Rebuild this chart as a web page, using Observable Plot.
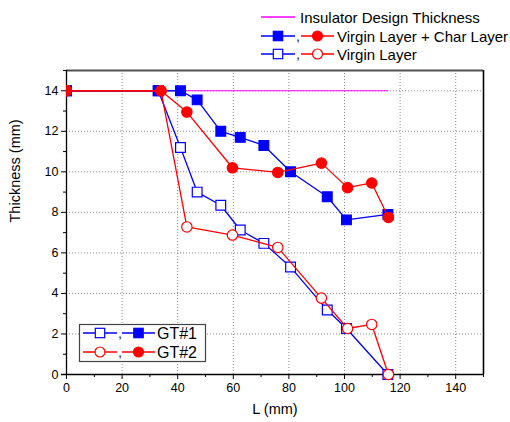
<!DOCTYPE html>
<html>
<head>
<meta charset="utf-8">
<script src="https://cdn.jsdelivr.net/npm/d3@7"></script>
<script src="https://cdn.jsdelivr.net/npm/@observablehq/plot@0.6"></script>
<style>
  body { margin: 0; background: #fff; }
  #chart { position: relative; width: 510px; height: 422px; font-family: "Liberation Sans", Arial, sans-serif; }
  #chart svg.legend { position: absolute; left: 0; top: 0; pointer-events: none; }
</style>
</head>
<body>
<div id="chart"></div>
<script>
// Measurement positions along the liner (mm)
const gt1L = [0, 33, 41, 47, 55.5, 62.5, 71, 80.6, 93.8, 100.7, 115.6];
const gt2L = [0, 34, 43.3, 59.7, 76, 91.7, 101.1, 109.8, 115.8];

// Remaining thickness (mm)
const gt1Total  = [14, 14, 14, 13.55, 12.0, 11.7, 11.3, 10.0, 8.77, 7.63, 7.9];
const gt1Virgin = [14, 14, 11.2, 9.0, 8.35, 7.13, 6.47, 5.3, 3.18, 2.27, 0];
const gt2Total  = [14, 14, 12.95, 10.2, 9.97, 10.43, 9.22, 9.45, 7.75];
const gt2Virgin = [14, 14, 7.28, 6.88, 6.27, 3.77, 2.27, 2.47, 0];

// Design thickness reference
const designL = [0, 115.5];
const designT = [14, 14];

// Axis ticks
const xMajor = [0, 20, 40, 60, 80, 100, 120, 140];
const xMinor = [10, 30, 50, 70, 90, 110, 130, 150];
const yMajor = [0, 2, 4, 6, 8, 10, 12, 14];
const yMinor = [1, 3, 5, 7, 9, 11, 13, 15];

const xTitle = "L (mm)";
const yTitle = "Thickness (mm)";
const legendTop = ["Insulator Design Thickness", "Virgin Layer + Char Layer", "Virgin Layer"];
const legendSeries = ["GT#1", "GT#2"];

const BLUE = "#0000ff", RED = "#ff0000", MAGENTA = "#ff00ff";
const FONT = "'Liberation Sans', Arial, sans-serif";

const rows = (xs, ys) => xs.map((x, i) => ({x, y: ys[i]}));
const design = rows(designL, designT);
const g1t = rows(gt1L, gt1Total), g1v = rows(gt1L, gt1Virgin);
const g2t = rows(gt2L, gt2Total), g2v = rows(gt2L, gt2Virgin);

// markers at the left edge are clipped by the frame, the others are drawn whole
function series(data, color, symbol, filled) {
  const opts = {
    x: "x", y: "y", symbol, r: symbol === "square" ? 5.5 : 5.2,
    fill: filled ? color : "#fff", stroke: color, strokeWidth: 1.2
  };
  return [
    Plot.line(data, {x: "x", y: "y", stroke: color, strokeWidth: 1.3}),
    Plot.dot(data, {...opts, filter: d => d.x === 0, clip: true}),
    Plot.dot(data, {...opts, filter: d => d.x > 0})
  ];
}

const plot = Plot.plot({
  width: 510,
  height: 422,
  marginLeft: 66,
  marginRight: 27,
  marginTop: 70,
  marginBottom: 48,
  style: {fontFamily: FONT, fontSize: "12px", color: "#000", background: "#fff"},
  x: {domain: [0, 150]},
  y: {domain: [0, 15]},
  marks: [
    Plot.gridX(xMajor.filter(v => v > 0), {stroke: "#8a8a8a", strokeOpacity: 1, strokeDasharray: "1,2"}),
    Plot.gridY(yMajor.filter(v => v > 0), {stroke: "#8a8a8a", strokeOpacity: 1, strokeDasharray: "1,2"}),
    Plot.ruleY([15], {stroke: "#505050", strokeWidth: 2}),
    Plot.ruleX([150], {stroke: "#000", strokeWidth: 1.6}),
    Plot.axisX({ticks: xMinor, tickSize: 3, tickFormat: () => "", label: null}),
    Plot.axisX({ticks: xMajor, tickSize: 5, tickPadding: 4, label: null, fontSize: 12.5}),
    Plot.axisY({ticks: yMinor, tickSize: 3, tickFormat: () => "", label: null}),
    Plot.axisY({ticks: yMajor, tickSize: 5, tickPadding: 3, label: null, fontSize: 12.5}),
    Plot.text([xTitle], {frameAnchor: "bottom", dy: 39, fontSize: 14.5, text: d => d}),
    Plot.text([yTitle], {frameAnchor: "left", dx: -51, rotate: -90, fontSize: 14.5, text: d => d}),
    Plot.ruleX([0], {stroke: "#000", strokeWidth: 1.3}),
    Plot.ruleY([0], {stroke: "#000", strokeWidth: 1.3, x1: -1.8, x2: 150}),
    Plot.line(design, {x: "x", y: "y", stroke: MAGENTA, strokeWidth: 1.2}),
    ...series(g1v, BLUE, "square", false),
    ...series(g1t, BLUE, "square", true),
    ...series(g2v, RED, "circle", false),
    ...series(g2t, RED, "circle", true)
  ]
});

const root = document.getElementById("chart");
root.appendChild(plot);

// Legends
const svg = d3.select(root).append("svg").attr("class", "legend")
  .attr("width", 510).attr("height", 422)
  .style("font-family", FONT);

function marker(g, cx, cy, color, symbol, filled) {
  if (symbol === "square") {
    g.append("rect").attr("x", cx - 4.7).attr("y", cy - 4.7).attr("width", 9.4).attr("height", 9.4)
      .attr("fill", filled ? color : "#fff").attr("stroke", color).attr("stroke-width", 1.2);
  } else {
    g.append("circle").attr("cx", cx).attr("cy", cy).attr("r", 5)
      .attr("fill", filled ? color : "#fff").attr("stroke", color).attr("stroke-width", 1.2);
  }
}
function sample(g, x0, x1, cy, color, symbol, filled) {
  g.append("line").attr("x1", x0).attr("x2", x1).attr("y1", cy).attr("y2", cy)
    .attr("stroke", color).attr("stroke-width", 1.3);
  marker(g, (x0 + x1) / 2, cy, color, symbol, filled);
}
function comma(g, x, cy) {
  g.append("text").attr("x", x).attr("y", cy + 5).attr("font-size", 13).attr("text-anchor", "middle").text(",");
}

// legend above the frame
const headLegend = svg.append("g");
headLegend.append("line").attr("x1", 261).attr("x2", 295).attr("y1", 17).attr("y2", 17)
  .attr("stroke", MAGENTA).attr("stroke-width", 1.3);
headLegend.append("text").attr("x", 300).attr("y", 22.5).attr("font-size", 15).text(legendTop[0]);
[[36, true], [54, false]].forEach(([cy, filled], i) => {
  sample(headLegend, 261, 295, cy, BLUE, "square", filled);
  comma(headLegend, 298, cy);
  sample(headLegend, 301, 334, cy, RED, "circle", filled);
  headLegend.append("text").attr("x", 337).attr("y", cy + 5.5).attr("font-size", 15).text(legendTop[i + 1]);
});

// series legend inside the frame
const boxLegend = svg.append("g");
boxLegend.append("rect").attr("x", 79.5).attr("y", 324.5).attr("width", 126).attr("height", 37)
  .attr("fill", "#fff").attr("stroke", "#444").attr("stroke-width", 1.2);
[[333, BLUE, "square"], [352, RED, "circle"]].forEach(([cy, color, symbol], i) => {
  sample(boxLegend, 83, 117, cy, color, symbol, false);
  comma(boxLegend, 120, cy);
  sample(boxLegend, 122, 155, cy, color, symbol, true);
  boxLegend.append("text").attr("x", 157).attr("y", cy + 5.5).attr("font-size", 16).text(legendSeries[i]);
});
</script>
</body>
</html>
